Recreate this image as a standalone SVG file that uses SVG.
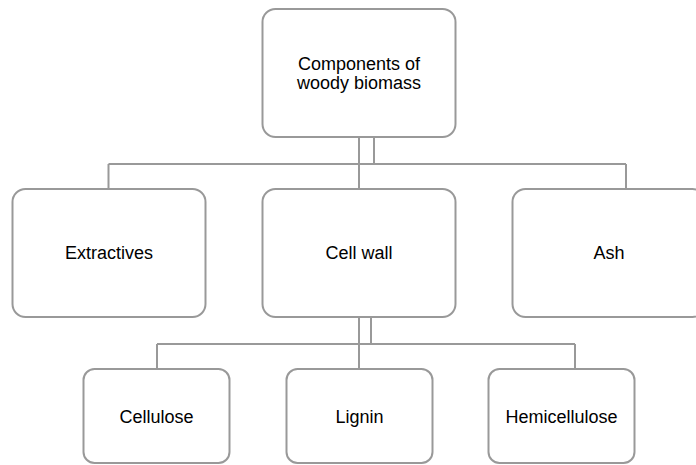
<svg xmlns="http://www.w3.org/2000/svg" width="696" height="465" viewBox="0 0 696 465">
<style>
.box{fill:#fff;stroke:#999;stroke-width:2}
.lbl{font-family:"Liberation Sans",Arial,sans-serif;font-size:18px;fill:#000;text-anchor:middle}
.con{fill:none;stroke:#999;stroke-width:2}
</style>
<rect width="696" height="465" fill="#fff"/>
<g id="connectors">
<path class="con" d="M359 137V189M374 137V164M108.5 164H626M108.5 164V189M626 164V189"/>
<path class="con" d="M359 317V369M371 317V344M157 344H575M157 344V369M575 344V369"/>
</g>
<g id="root">
<rect class="box" x="262.5" y="9" width="193" height="128" rx="13"/>
<text class="lbl" x="359" y="70">Components of</text>
<text class="lbl" x="359" y="89">woody biomass</text>
</g>
<g id="extractives">
<rect class="box" x="12.5" y="189" width="193" height="128" rx="13"/>
<text class="lbl" x="109" y="259">Extractives</text>
</g>
<g id="cellwall">
<rect class="box" x="262.5" y="189" width="193" height="128" rx="13"/>
<text class="lbl" x="359" y="259">Cell wall</text>
</g>
<g id="ash">
<rect class="box" x="512.5" y="189" width="193" height="128" rx="13"/>
<text class="lbl" x="609" y="259">Ash</text>
</g>
<g id="cellulose">
<rect class="box" x="83.5" y="369" width="146" height="94" rx="11"/>
<text class="lbl" x="156.5" y="423">Cellulose</text>
</g>
<g id="lignin">
<rect class="box" x="286.5" y="369" width="146" height="94" rx="11"/>
<text class="lbl" x="359.5" y="423">Lignin</text>
</g>
<g id="hemicellulose">
<rect class="box" x="488.5" y="369" width="146" height="94" rx="11"/>
<text class="lbl" x="561.5" y="423">Hemicellulose</text>
</g>
</svg>
